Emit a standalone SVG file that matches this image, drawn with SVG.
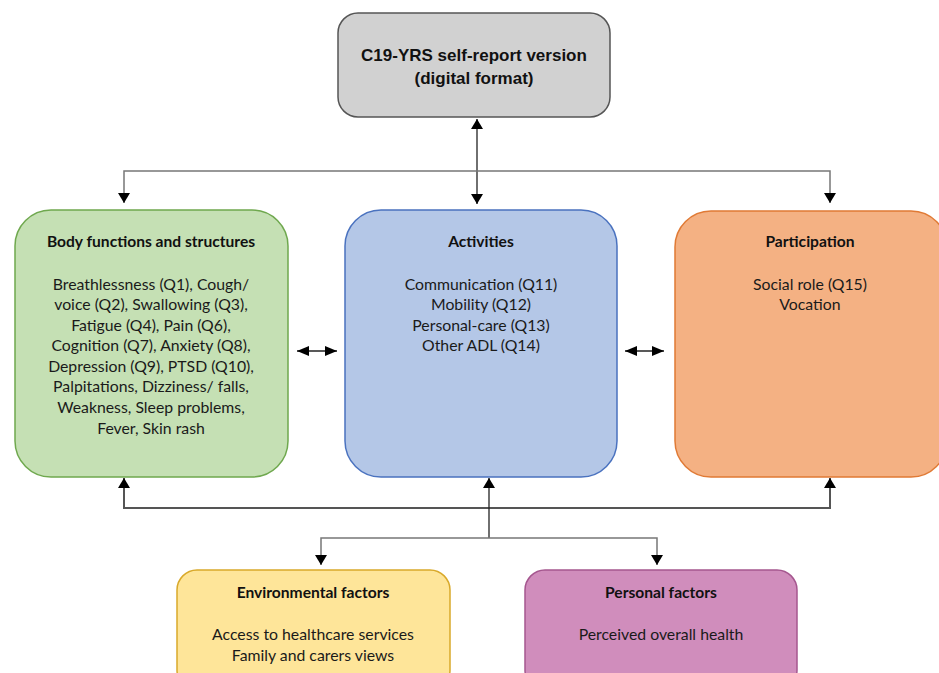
<svg xmlns="http://www.w3.org/2000/svg" width="939" height="673" viewBox="0 0 939 673">
<style>
  .t { font-family: Lato, "Liberation Sans", sans-serif; font-size: 15.8px; fill: #1a1a1a; text-anchor: middle; }
  .h { font-family: Lato, "Liberation Sans", sans-serif; font-size: 15.6px; font-weight: bold; fill: #111; text-anchor: middle; }
  .top { font-family: "Liberation Sans", Arial, sans-serif; font-size: 17px; font-weight: bold; fill: #111; text-anchor: middle; }
  .ln { fill: none; stroke: #777; stroke-width: 1.5; }
  .lk { fill: none; stroke: #222; stroke-width: 1.3; }
</style>
<defs>
  <marker id="ah" viewBox="0 0 10 12" refX="10" refY="6" markerWidth="10" markerHeight="12" markerUnits="userSpaceOnUse" orient="auto-start-reverse">
    <path d="M0,0 L10,6 L0,12 Z" fill="#000"/>
  </marker>
  <marker id="ahs" viewBox="0 0 12 10" refX="12" refY="5" markerWidth="12" markerHeight="10" markerUnits="userSpaceOnUse" orient="auto-start-reverse">
    <path d="M0,0 L12,5 L0,10 Z" fill="#000"/>
  </marker>
</defs>
<rect width="939" height="673" fill="#fff"/>

<g id="connectors">
  <line class="lk" x1="477" y1="119" x2="477" y2="204" marker-start="url(#ah)" marker-end="url(#ah)"/>
  <polyline class="ln" points="124,203 124,171 830,171 830,203" marker-start="url(#ah)" marker-end="url(#ah)"/>
  <line class="lk" x1="297" y1="351" x2="337" y2="351" marker-start="url(#ahs)" marker-end="url(#ahs)"/>
  <line class="lk" x1="625" y1="351" x2="664" y2="351" marker-start="url(#ahs)" marker-end="url(#ahs)"/>
  <polyline fill="none" stroke="#555" stroke-width="2" points="124,478 124,508 830,508 830,478" marker-start="url(#ah)" marker-end="url(#ah)"/>
  <line class="lk" x1="489" y1="538" x2="489" y2="478" marker-end="url(#ah)"/>
  <polyline class="ln" points="321,565 321,538 657,538 657,565" marker-start="url(#ah)" marker-end="url(#ah)"/>
</g>

<g id="node-c19">
  <rect x="338" y="13" width="272" height="104" rx="20" fill="#d1d1d1" stroke="#555" stroke-width="1.5"/>
  <text class="top" x="474" y="61">C19-YRS self-report version</text>
  <text class="top" x="474" y="84">(digital format)</text>
</g>

<g id="node-body">
  <rect x="15" y="210" width="273" height="267" rx="36" fill="#c5e0b4" stroke="#6fa84e" stroke-width="1.5"/>
  <text class="h" x="151" y="247">Body functions and structures</text>
  <text class="t" x="151" y="290">Breathlessness (Q1), Cough/</text>
  <text class="t" x="151" y="310">voice (Q2), Swallowing (Q3),</text>
  <text class="t" x="151" y="331">Fatigue (Q4), Pain (Q6),</text>
  <text class="t" x="151" y="351">Cognition (Q7), Anxiety (Q8),</text>
  <text class="t" x="151" y="372">Depression (Q9), PTSD (Q10),</text>
  <text class="t" x="151" y="392">Palpitations, Dizziness/ falls,</text>
  <text class="t" x="151" y="413">Weakness, Sleep problems,</text>
  <text class="t" x="151" y="434">Fever, Skin rash</text>
</g>

<g id="node-activities">
  <rect x="345" y="210" width="272" height="267" rx="36" fill="#b4c7e7" stroke="#4a72bf" stroke-width="1.5"/>
  <text class="h" x="481" y="247">Activities</text>
  <text class="t" x="481" y="290">Communication (Q11)</text>
  <text class="t" x="481" y="310">Mobility (Q12)</text>
  <text class="t" x="481" y="331">Personal-care (Q13)</text>
  <text class="t" x="481" y="351">Other ADL (Q14)</text>
</g>

<g id="node-participation">
  <rect x="675" y="211" width="272" height="266" rx="36" fill="#f4b183" stroke="#e07a35" stroke-width="1.5"/>
  <text class="h" x="810" y="247">Participation</text>
  <text class="t" x="810" y="290">Social role (Q15)</text>
  <text class="t" x="810" y="310">Vocation</text>
</g>

<g id="node-environmental">
  <rect x="177" y="570" width="273" height="120" rx="20" fill="#fee599" stroke="#d9a92a" stroke-width="1.5"/>
  <text class="h" x="313" y="598">Environmental factors</text>
  <text class="t" x="313" y="640">Access to healthcare services</text>
  <text class="t" x="313" y="661">Family and carers views</text>
</g>

<g id="node-personal">
  <rect x="525" y="570" width="272" height="120" rx="20" fill="#d08dbc" stroke="#a5578f" stroke-width="1.5"/>
  <text class="h" x="661" y="598">Personal factors</text>
  <text class="t" x="661" y="640">Perceived overall health</text>
</g>
</svg>
